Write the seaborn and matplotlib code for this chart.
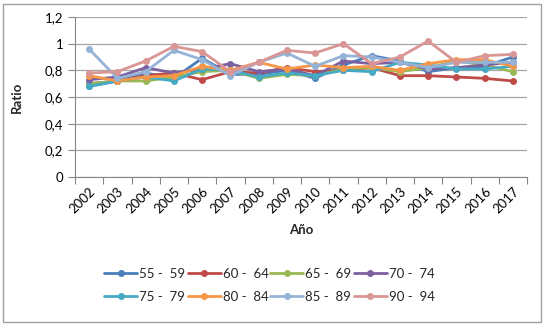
import matplotlib
matplotlib.use("Agg")
import matplotlib.pyplot as plt
import seaborn as sns
import pandas as pd
from matplotlib.patches import Rectangle
from matplotlib.ticker import FixedLocator, FuncFormatter

years = list(range(2002, 2018))
g55_59 = [0.68, 0.72, 0.78, 0.74, 0.89, 0.77, 0.77, 0.80, 0.74, 0.84, 0.91, 0.87, 0.79, 0.82, 0.83, 0.90]
g60_64 = [0.70, 0.72, 0.76, 0.78, 0.73, 0.79, 0.78, 0.82, 0.79, 0.80, 0.82, 0.76, 0.76, 0.75, 0.74, 0.72]
g65_69 = [0.70, 0.72, 0.72, 0.75, 0.79, 0.80, 0.74, 0.77, 0.76, 0.81, 0.82, 0.79, 0.82, 0.87, 0.84, 0.79]
g70_74 = [0.73, 0.75, 0.82, 0.78, 0.81, 0.85, 0.79, 0.81, 0.76, 0.87, 0.85, 0.86, 0.81, 0.82, 0.84, 0.86]
g75_79 = [0.68, 0.72, 0.75, 0.72, 0.81, 0.80, 0.75, 0.78, 0.76, 0.80, 0.79, 0.86, 0.84, 0.81, 0.81, 0.83]
g80_84 = [0.76, 0.72, 0.75, 0.76, 0.83, 0.80, 0.86, 0.81, 0.84, 0.82, 0.83, 0.80, 0.85, 0.88, 0.88, 0.83]
g85_89 = [0.96, 0.74, 0.79, 0.95, 0.88, 0.76, 0.86, 0.93, 0.83, 0.91, 0.90, 0.86, 0.82, 0.86, 0.86, 0.86]
g90_94 = [0.78, 0.79, 0.87, 0.98, 0.94, 0.79, 0.86, 0.95, 0.93, 1.00, 0.85, 0.90, 1.02, 0.86, 0.91, 0.92]

groups = ["55 -  59", "60 -  64", "65 -  69", "70 -  74",
          "75 -  79", "80 -  84", "85 -  89", "90 -  94"]
series = [g55_59, g60_64, g65_69, g70_74, g75_79, g80_84, g85_89, g90_94]
colors = ["#4A7EBB", "#BE4B48", "#98B954", "#7D60A0",
          "#46AAC5", "#F79646", "#95B3D7", "#D99694"]

rows = []
for gname, vals in zip(groups, series):
    for y, v in zip(years, vals):
        rows.append({"Año": y, "Ratio": v, "Grupo": gname})
df = pd.DataFrame(rows)

sns.set_theme(style="white")
plt.rcParams["font.family"] = ["Lato", "DejaVu Sans"]

fig = plt.figure(figsize=(5.5, 3.28), dpi=100)
ax = fig.add_axes([75/550, 1-177/328, (527-75)/550, (177-17)/328])

sns.lineplot(data=df, x="Año", y="Ratio", hue="Grupo", hue_order=groups,
             palette=colors, marker="o", markersize=5, markeredgewidth=0,
             linewidth=2.0, dashes=False, ax=ax, legend=True)

ax.set_ylim(0, 1.2)
ax.set_yticks([0, 0.2, 0.4, 0.6, 0.8, 1.0, 1.2])
ax.yaxis.set_major_formatter(FuncFormatter(lambda v, p: ("%g" % round(v, 1)).replace(".", ",")))
ax.set_xlim(2001.5, 2017.5)
ax.set_xticks(years)
ax.set_xticklabels([str(y) for y in years], rotation=45, ha="right", rotation_mode="anchor")
ax.xaxis.set_minor_locator(FixedLocator([y + 0.5 for y in range(2001, 2018)]))
ax.tick_params(axis="x", which="major", length=0, pad=6, labelsize=9.5, colors="black")
ax.tick_params(axis="x", which="minor", length=5, width=0.8, color="#868686", direction="out", bottom=True)
ax.tick_params(axis="y", which="major", length=5, width=0.8, color="#868686", direction="out", left=True, labelsize=9.5, colors="black")
ax.grid(axis="y", color="#a6a6a6", linewidth=0.9)
ax.set_axisbelow(True)
for s in ["top", "right"]:
    ax.spines[s].set_visible(False)
for s in ["left", "bottom"]:
    ax.spines[s].set_color("#868686")
    ax.spines[s].set_linewidth(0.8)

ax.set_xlabel("Año", fontsize=9.5, fontweight="bold", labelpad=6)
ax.set_ylabel("Ratio", fontsize=9.5, fontweight="bold", labelpad=16)

handles, labels = ax.get_legend_handles_labels()
ax.get_legend().remove()
order = [0, 4, 1, 5, 2, 6, 3, 7]
fig.legend([handles[i] for i in order], [labels[i] for i in order],
           loc="center", bbox_to_anchor=(0.49, 0.13), ncol=4,
           frameon=False, fontsize=9.5, handlelength=2.5, handletextpad=0.15,
           columnspacing=0.15, labelspacing=0.8)

fig.patches.append(Rectangle((3/550, 6/328), 538/550, 318/328, transform=fig.transFigure,
                             fill=False, edgecolor="#a0a0a0", linewidth=1.0))

fig.savefig("out.png", dpi=100)
